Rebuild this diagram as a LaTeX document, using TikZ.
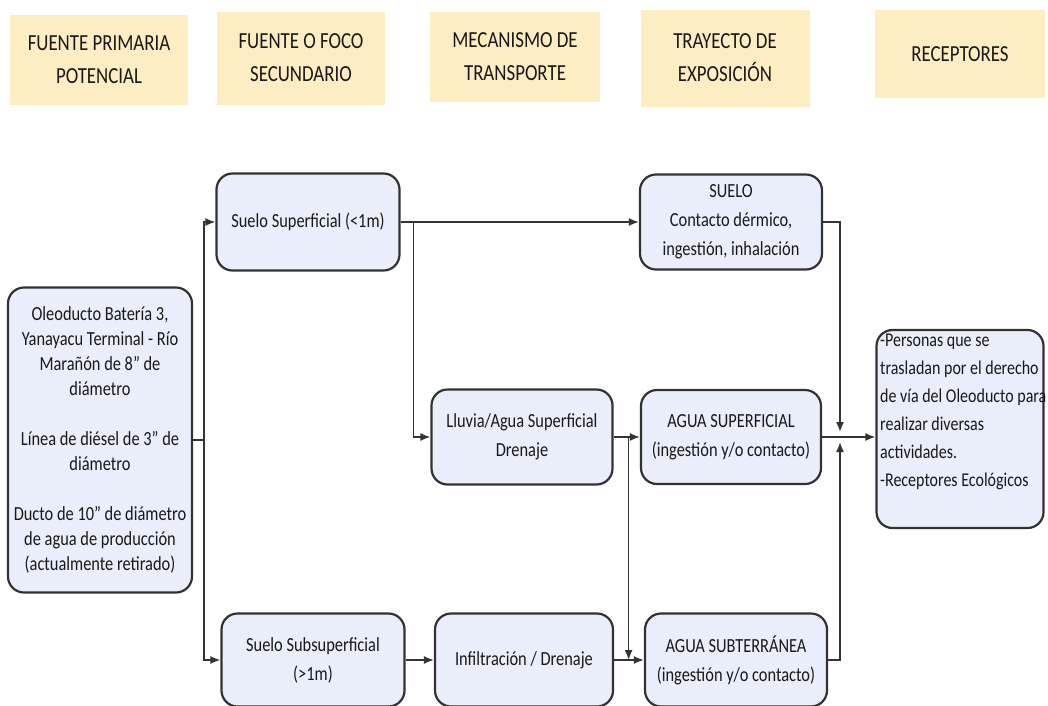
\documentclass[tikz,border=0pt]{standalone}
\usepackage{fontspec}
\setmainfont{Carlito}[FakeStretch=0.82]
\usetikzlibrary{arrows.meta,calc}
\definecolor{cabecera}{RGB}{252,237,194}
\definecolor{fondocaja}{RGB}{234,238,250}
\definecolor{borde}{RGB}{50,50,50}
\tikzset{
	cabeza/.style={fill=cabecera, minimum width=170pt, minimum height=92pt, align=center, text=black!90, font=\fontsize{23}{33}\selectfont},
	caja/.style={draw=borde, line width=2.2pt, fill=fondocaja, rounded corners=16pt, align=center, inner sep=2pt, text=black!90, font=\fontsize{20}{29}\selectfont},
	flecha/.style={draw=black!80, line width=1.6pt, -{Latex[length=10pt,width=8pt]}}
}

\begin{document}
\begin{tikzpicture}[x=1pt,y=-1pt]
				\useasboundingbox (0,0) rectangle (1048,705);
				
				\node[cabeza, minimum width=178pt, minimum height=90pt] (h1) at (99,60) {FUENTE PRIMARIA\\POTENCIAL};
				\node[cabeza, minimum width=168pt, minimum height=93pt] (h2) at (301,58) {FUENTE O FOCO\\SECUNDARIO};
				\node[cabeza, minimum height=90pt] (h3) at (515,57) {MECANISMO DE\\TRANSPORTE};
				\node[cabeza, minimum width=169pt, minimum height=97pt] (h4) at (725,58) {TRAYECTO DE\\EXPOSICIÓN};
				\node[cabeza, minimum height=88pt] (h5) at (960,54) {RECEPTORES};
				
				\node[caja, minimum width=184pt, minimum height=305pt, font=\fontsize{20}{25}\selectfont] (src) at (100,440) {Oleoducto Batería 3,\\Yanayacu Terminal - Río\\Marañón de 8” de\\diámetro\\[25pt]Línea de diésel de 3” de\\diámetro\\[25pt]Ducto de 10” de diámetro\\de agua de producción\\(actualmente retirado)};
				
				\node[caja, minimum width=183pt, minimum height=97pt] (sup) at (308,222) {Suelo Superficial (<1m)};
				\node[caja, minimum width=183pt, minimum height=93pt] (sub) at (313,660) {Suelo Subsuperficial\\(>1m)};
				\node[caja, minimum width=181pt, minimum height=95pt] (lluvia) at (522,437) {Lluvia/Agua Superficial\\Drenaje};
				\node[caja, minimum width=178pt, minimum height=93pt] (infil) at (524,660) {Infiltración / Drenaje};
				\node[caja, minimum width=182pt, minimum height=95pt] (suelo) at (731,222) {SUELO\\Contacto dérmico,\\ingestión, inhalación};
				\node[caja, minimum width=180pt, minimum height=94pt] (asup) at (731,437) {AGUA SUPERFICIAL\\(ingestión y/o contacto)};
				\node[caja, minimum width=182pt, minimum height=93pt] (asub) at (736,660) {AGUA SUBTERRÁNEA\\(ingestión y/o contacto)};
				\node[caja, minimum width=167pt, minimum height=198pt] (rec) at (960,429) {};
				\node[anchor=north west, align=left, inner sep=0pt, text=black!90, font=\fontsize{19.5}{28}\selectfont] (rectxt) at (880,334) {-Personas que se\\trasladan por el derecho\\de vía del Oleoducto para\\realizar diversas\\actividades.\\-Receptores Ecológicos};
				
				\draw[flecha] (src.east) -- ++(11,0) coordinate (j1) |- (sup.west);
				\draw[flecha] (j1) |- (sub.west);
				
				\draw[flecha] (sup) -- (suelo);
				\draw[flecha] ($(sup.east)+(13,0)$) |- (lluvia.west);
				
				\draw[flecha] (lluvia) -- (asup);
				\coordinate (j3) at ($(lluvia.east)+(15,0)$);
				\draw[flecha] (j3) -- (j3 |- infil.east);
				
				\draw[flecha] (sub) -- (infil);
				\draw[flecha] (infil) -- (asub);
				
				\coordinate (j4) at (840,437);
				\draw[flecha] (suelo.east) -| ([yshift=5pt]j4);
				\draw[flecha] (asub.east) -| ([yshift=-5pt]j4);
				\draw[flecha] (asup.east) -- (asup.east -| rec.west);
\end{tikzpicture}
\end{document}
